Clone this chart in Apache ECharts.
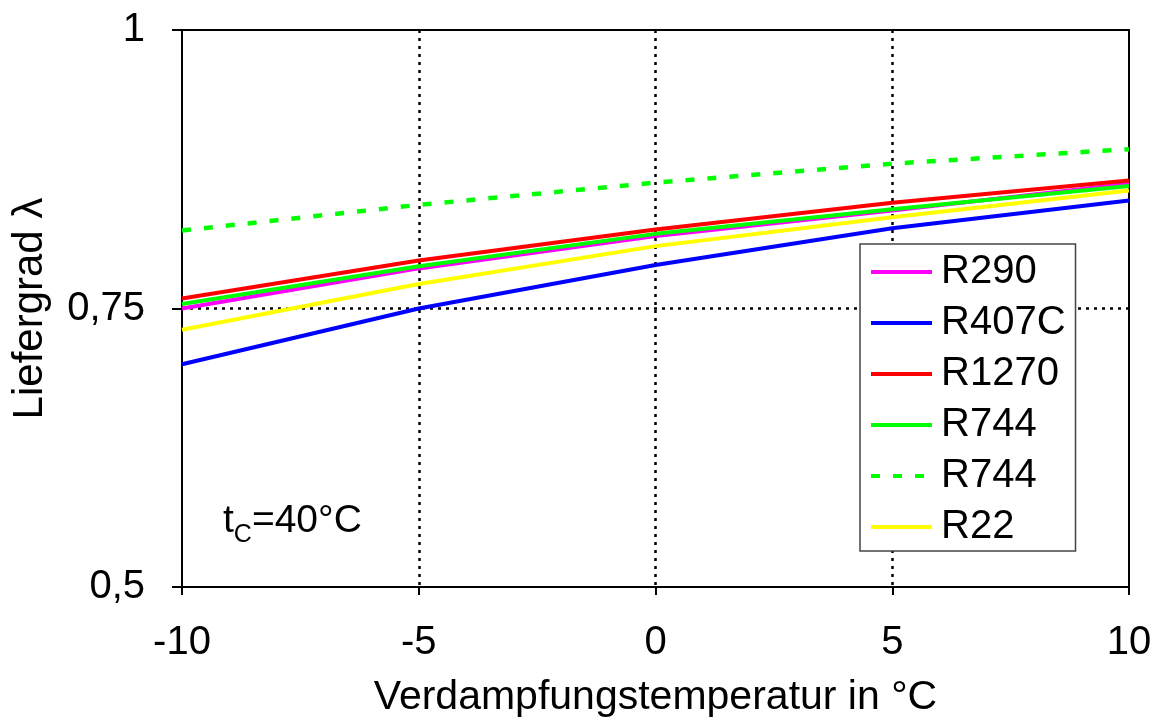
<!DOCTYPE html>
<html>
<head>
<meta charset="utf-8">
<script src="https://cdn.jsdelivr.net/npm/echarts@6/dist/echarts.min.js"></script>
<style>
  html, body { margin: 0; padding: 0; background: #fff; }
  #chart { width: 1159px; height: 727px; }
</style>
</head>
<body>
<div id="chart"></div>
<script>
  // Verdampfungstemperatur in °C
  var temps = [-10, -5, 0, 5, 10]

  var r290 = [0.750, 0.786, 0.815, 0.838, 0.862]
  var r407c = [0.700, 0.750, 0.789, 0.822, 0.847]
  var r1270 = [0.759, 0.793, 0.821, 0.845, 0.865]
  var r744 = [0.754, 0.788, 0.817, 0.839, 0.860]
  var r744Dashed = [0.820, 0.843, 0.863, 0.880, 0.893]
  var r22 = [0.731, 0.772, 0.806, 0.832, 0.856]

  var yTicks = [0.5, 0.75, 1]

  function pairs(vals) {
    return temps.map(function (t, i) { return [t, vals[i]] })
  }

  function line(name, color, vals, dashed) {
    return {
      name: name,
      type: 'line',
      data: pairs(vals),
      symbol: 'none',
      animation: false,
      itemStyle: { color: color },
      lineStyle: {
        color: color,
        width: dashed ? 4.5 : 4,
        type: dashed ? [9, 13] : 'solid'
      }
    }
  }

  var font = 'Liberation Sans, Arial, sans-serif'
  var dots = { color: '#000', width: 2.5, type: [3, 5] }
  var chart = echarts.init(document.getElementById('chart'))

  chart.setOption({
    backgroundColor: '#fff',
    grid: {
      left: 182,
      right: 30,
      top: 30,
      bottom: 140,
      show: true,
      borderColor: '#000',
      borderWidth: 2,
      backgroundColor: 'transparent'
    },
    xAxis: {
      type: 'value',
      min: -10,
      max: 10,
      interval: 5,
      name: 'Verdampfungstemperatur in °C',
      nameLocation: 'middle',
      nameGap: 90,
      nameTextStyle: { fontFamily: font, fontSize: 41, color: '#000' },
      axisLine: { show: true, onZero: false, lineStyle: { color: '#000', width: 2 } },
      axisTick: { show: true, length: 8, lineStyle: { color: '#000', width: 2 } },
      axisLabel: { fontFamily: font, fontSize: 40, color: '#000', margin: 36 },
      splitLine: { show: true, showMinLine: false, showMaxLine: false, lineStyle: dots }
    },
    yAxis: {
      type: 'value',
      min: yTicks[0],
      max: yTicks[yTicks.length - 1],
      interval: 0.25,
      name: 'Liefergrad λ',
      nameLocation: 'middle',
      nameGap: 131,
      nameTextStyle: { fontFamily: font, fontSize: 42, color: '#000' },
      axisLine: { show: true, onZero: false, lineStyle: { color: '#000', width: 2 } },
      axisTick: { show: true, length: 10, lineStyle: { color: '#000', width: 2 } },
      axisLabel: {
        fontFamily: font,
        fontSize: 40,
        color: '#000',
        margin: 37,
        formatter: function (v) { return String(v).replace('.', ',') }
      },
      splitLine: { show: true, showMinLine: false, showMaxLine: false, lineStyle: dots }
    },
    legend: {
      orient: 'vertical',
      left: 860,
      top: 244,
      padding: [8, 10, 4, 9],
      backgroundColor: '#fff',
      borderColor: '#444',
      borderWidth: 1.5,
      itemWidth: 61,
      itemHeight: 40,
      itemGap: 11,
      itemStyle: { color: 'rgba(0,0,0,0)', borderWidth: 0, opacity: 0 },
      lineStyle: { width: 4 },
      textStyle: { fontFamily: font, fontSize: 40, lineHeight: 40, color: '#000', padding: [0, 0, 0, 4] },
      formatter: function (name) { return name.split('_')[0] },
      data: ['R290', 'R407C', 'R1270', 'R744', 'R744_2', 'R22']
    },
    graphic: [
      {
        type: 'text',
        left: 223,
        top: 502,
        style: {
          text: '{a|t}{b|C}{a|=40°C}',
          rich: {
            a: { fontFamily: font, fontSize: 39, fill: '#000', verticalAlign: 'bottom' },
            b: { fontFamily: font, fontSize: 25, fill: '#000', verticalAlign: 'bottom', padding: [0, 0, -7, 0] }
          }
        }
      }
    ],
    series: [
      line('R744_2', '#00ff00', r744Dashed, true),
      line('R407C', '#0000ff', r407c),
      line('R290', '#ff00ff', r290),
      line('R744', '#00ff00', r744),
      line('R1270', '#ff0000', r1270),
      line('R22', '#ffff00', r22)
    ]
  })
</script>
</body>
</html>
